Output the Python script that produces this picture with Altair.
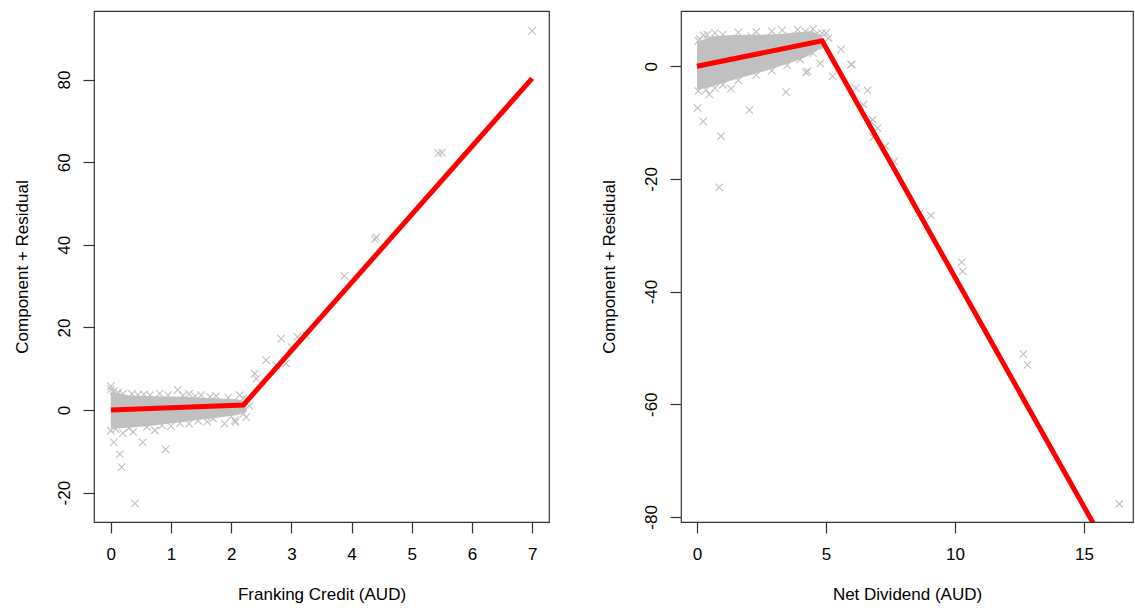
import altair as alt
import pandas as pd

FONT = "Liberation Sans"

# ---------------- Left panel: Franking Credit ----------------
fc_line_x = [0.0, 2.2, 7.0]
fc_line_y = [0.0, 1.2, 80.3]

# dense cloud of residuals (band outline)
fc_band_x = [0.0, 0.3, 0.6, 0.9, 1.2, 1.5, 1.8, 2.1, 2.25]
fc_band_hi = [4.5, 3.5, 3.4, 3.3, 3.2, 3.0, 2.8, 2.6, 2.0]
fc_band_lo = [-4.5, -4.3, -3.9, -3.4, -2.9, -2.3, -1.8, -1.2, -0.5]

# individual points
fc_pts_x = [0.0, 0.0, 0.12, 0.35, 0.55, 0.81, 1.11, 1.3, 1.5, 1.75, 2.14, 2.25,
            0.0, 0.05, 0.15, 0.18, 0.40, 0.2, 0.37, 0.53, 0.73, 0.91, 1.0, 1.3, 1.6,
            1.89, 2.07, 2.25, 2.06, 2.3,
            2.42, 2.39, 2.58, 2.75, 2.91, 2.83, 3.0, 3.1, 3.25,
            3.88, 4.39, 4.41, 5.44, 5.50, 7.0,
            0.05, 0.2, 0.45, 0.65, 0.95, 1.2, 1.4, 1.65, 1.95, 2.2,
            0.08, 0.3, 0.6, 0.85, 1.15, 1.45, 1.7, 2.0, 2.2]
fc_pts_y = [5.8, 5.0, 4.2, 3.9, 3.8, 4.0, 4.9, 3.9, 3.6, 3.4, 3.6, 2.6,
            -5.0, -7.8, -10.7, -13.8, -22.6, -5.6, -5.3, -7.8, -4.9, -9.5, -3.9, -3.3, -2.8,
            -3.3, -2.9, -1.7, -2.5, 1.0,
            7.6, 8.8, 12.1, 10.8, 11.3, 17.3, 15.3, 17.7, 18.0,
            32.5, 41.3, 41.8, 62.2, 62.3, 91.8,
            4.6, 3.9, 3.7, 3.6, 3.6, 3.5, 3.4, 3.2, 3.0, 2.8,
            -4.6, -4.4, -4.1, -3.7, -3.2, -2.6, -2.1, -1.5, -0.9]

# ---------------- Right panel: Net Dividend ----------------
nd_line_x = [0.0, 4.85, 16.4]
nd_line_y = [0.0, 4.5, -89.6]

nd_band_x = [0.0, 0.6, 1.2, 1.9, 2.6, 3.2, 3.8, 4.3, 4.85]
nd_band_hi = [4.3, 5.3, 5.5, 5.6, 5.6, 5.7, 6.0, 6.2, 5.6]
nd_band_lo = [-4.2, -3.6, -2.7, -1.8, -0.9, 0.0, 0.9, 1.8, 3.3]

nd_pts_x = [0.1, 0.4, 0.48, 1.37, 2.1, 2.53, 3.58, 4.2, 4.6, 5.0,
            0.02, 0.24, 0.48, 0.93, 1.32, 2.03, 3.45, 4.22, 4.29, 0.86,
            4.78, 5.26, 5.58, 5.97, 6.0, 6.16, 6.61, 6.45, 6.74, 6.81, 7.0, 6.83,
            7.3, 7.65, 8.62, 9.07, 10.26, 10.3, 12.65, 12.81, 16.37,
            0.05, 0.25, 0.7, 1.0, 1.6, 2.3, 2.9, 3.3, 3.9, 4.5, 4.85, 5.1,
            0.05, 0.35, 0.7, 1.0, 1.6, 2.3, 2.9, 3.5, 4.0, 4.5, 4.9]
nd_pts_y = [4.8, 5.6, 4.8, 4.4, 5.3, 5.0, 5.3, 6.2, 5.6, 5.9,
            -7.4, -9.8, -5.0, -12.4, -4.0, -7.8, -4.6, -1.1, -0.9, -21.5,
            0.5, -1.8, 3.0, 0.3, 0.3, -3.9, -4.3, -6.8, -9.8, -9.5, -11.0, -12.6,
            -14.2, -16.9, -26.1, -26.5, -34.8, -36.4, -51.1, -53.0, -77.7,
            4.5, 5.5, 5.9, 5.6, 6.0, 6.1, 6.2, 6.4, 6.5, 6.6, 5.9, 5.0,
            -4.4, -4.2, -3.9, -3.3, -2.5, -1.6, -0.8, 0.2, 1.2, 2.3, 3.5]

GRAY = "#C0C0C0"
XSHAPE = "M-1,-1L1,1M1,-1L-1,1"
LABEL_EXPR = "'' + datum.value"


def panel(line_x, line_y, band_x, band_hi, band_lo, pts_x, pts_y,
          xdom, ydom, xvals, yvals, xtitle, width):
    xs = alt.Scale(domain=xdom, nice=False, zero=False)
    ys = alt.Scale(domain=ydom, nice=False, zero=False)
    xax = alt.Axis(values=xvals, title=xtitle, labelExpr=LABEL_EXPR)
    yax = alt.Axis(values=yvals, title="Component + Residual", labelExpr=LABEL_EXPR,
                   labelAngle=-90, labelAlign="center", labelBaseline="bottom")
    band = alt.Chart(pd.DataFrame({"x": band_x, "hi": band_hi, "lo": band_lo})).mark_area(
        color=GRAY, clip=True
    ).encode(
        x=alt.X("x:Q", scale=xs, axis=xax),
        y=alt.Y("hi:Q", scale=ys, axis=yax),
        y2="lo:Q",
    )
    pts = alt.Chart(pd.DataFrame({"x": pts_x, "y": pts_y})).mark_point(
        shape=XSHAPE, filled=False, color=GRAY, strokeWidth=1.1, size=55, opacity=1, clip=True
    ).encode(
        x=alt.X("x:Q", scale=xs, axis=xax),
        y=alt.Y("y:Q", scale=ys, axis=yax),
    )
    line = alt.Chart(pd.DataFrame({"x": line_x, "y": line_y})).mark_line(
        color="#FF0000", strokeWidth=5, clip=True
    ).encode(
        x=alt.X("x:Q", scale=xs, axis=xax),
        y=alt.Y("y:Q", scale=ys, axis=yax),
    )
    return alt.layer(band, pts, line).properties(width=width, height=511)


left = panel(fc_line_x, fc_line_y, fc_band_x, fc_band_hi, fc_band_lo, fc_pts_x, fc_pts_y,
             [-0.28, 7.28], [-27.1, 96.6], [0, 1, 2, 3, 4, 5, 6, 7],
             [-20, 0, 20, 40, 60, 80], "Franking Credit (AUD)", 455)
right = panel(nd_line_x, nd_line_y, nd_band_x, nd_band_hi, nd_band_lo, nd_pts_x, nd_pts_y,
              [-0.62, 16.9], [-80.9, 9.8], [0, 5, 10, 15],
              [-80, -60, -40, -20, 0], "Net Dividend (AUD)", 452)

chart = alt.hconcat(left, right, spacing=49).properties(
    padding={"left": 12, "top": 10, "right": 0, "bottom": 0},
    background="white",
).configure_view(
    stroke="#333333", strokeWidth=1.2
).configure_axis(
    domain=False, grid=False,
    ticks=True, tickSize=11, tickColor="#333333", tickWidth=1.2,
    labelFont=FONT, labelFontSize=17, labelColor="#000000", labelPadding=10,
    titleFont=FONT, titleFontSize=17, titleFontWeight="normal", titleColor="#000000",
    labelFlush=False, labelOverlap=False,
).configure_axisX(
    labelPadding=13, titlePadding=24
).configure_axisY(
    titlePadding=24
)

chart.save("out.html", embed_options={"renderer": "svg", "actions": False})
